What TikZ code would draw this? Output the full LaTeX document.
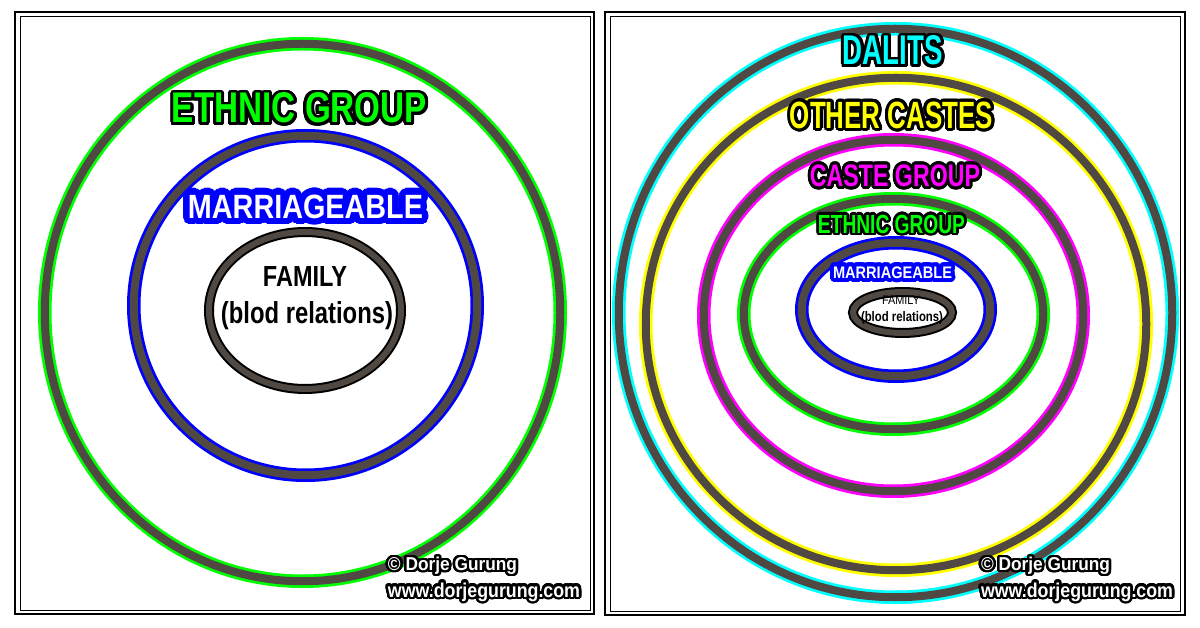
\documentclass[tikz,border=0pt]{standalone}
\usepackage{fontspec}
\setmainfont{Liberation Sans}
\usepackage{graphicx}
\definecolor{gr}{RGB}{0,255,0}
\definecolor{bl}{RGB}{0,0,255}
\definecolor{cy}{RGB}{0,255,255}
\definecolor{ye}{RGB}{255,255,0}
\definecolor{ma}{RGB}{255,0,255}
\definecolor{ringgray}{RGB}{80,72,66}
\newsavebox\oltboxa
\newsavebox\oltboxb
\newlength\oltw
% #1 outline width, #2 outline colour, #3 fill colour, #4 width, #5 height, #6 text
\newcommand\olt[6]{%
  \sbox\oltboxa{\resizebox{#4}{#5}{\color{#2}\bfseries #6}}%
  \sbox\oltboxb{\resizebox{#4}{#5}{\color{#3}\bfseries #6}}%
  \setlength\oltw{#1}%
  \rlap{\foreach \oltr in {0.5,1}{\foreach \oltang in {0,12,...,348}{%
      \pgfmathsetlengthmacro\oltdx{\oltr*\oltw*cos(\oltang)}%
      \pgfmathsetlengthmacro\oltdy{\oltr*\oltw*sin(\oltang)}%
      \rlap{\kern\oltdx\raisebox{\oltdy}{\usebox\oltboxa}}}}}%
  \usebox\oltboxb}
\newcommand\fit[3]{\resizebox{#1}{#2}{\bfseries #3}}
\newcommand\ringe[5]{%
  \draw[#1,line width=13.5pt] (#2,#3) ellipse [x radius=#4pt, y radius=#5pt];
  \draw[ringgray,line width=8pt] (#2,#3) ellipse [x radius=#4pt, y radius=#5pt];}
\newcommand\famring[4]{%
  \draw[black,line width=10pt] (#1,#2) ellipse [x radius=#3pt, y radius=#4pt];
  \draw[ringgray,line width=6pt] (#1,#2) ellipse [x radius=#3pt, y radius=#4pt];}
\tikzset{lbl/.style={inner sep=0pt, outer sep=0pt, anchor=base}}
\begin{document}
\begin{tikzpicture}[x=1pt,y=-1pt]
\useasboundingbox (0,0) rectangle (1200,628);
\fill[white] (0,0) rectangle (1200,628);
% frames
\draw[line width=2.5pt] (15,12) rectangle (594,614);
\draw[line width=1pt] (20,17) rectangle (590,610);
\draw[line width=2.5pt] (605,12) rectangle (1185,615);
\draw[line width=1pt] (610,17) rectangle (1180,611);
% left rings
\ringe{gr}{302.5}{312.5}{257.75}{268.75}
\ringe{bl}{305.5}{305.5}{171.75}{169.75}
\famring{305}{310.5}{96}{78.5}
% right rings
\ringe{cy}{895.5}{313}{276.75}{284.25}
\ringe{ye}{896}{324}{250.25}{246.25}
\ringe{ma}{893.5}{315.5}{189.75}{175.75}
\ringe{gr}{893.5}{314}{149.75}{115.25}
\ringe{bl}{896}{309.5}{94.25}{66.75}
\famring{902.5}{312.5}{49.5}{20.5}
% left texts
\node[lbl] (lethnic) at (299.5,123) {\olt{3pt}{black}{gr}{255pt}{30pt}{ETHNIC GROUP}};
\node[lbl] (lmarr) at (305.5,218.3) {\olt{6.5pt}{bl}{white}{235pt}{23.5pt}{MARRIAGEABLE}};
\node[lbl] (lfam) at (305,287) {\fit{84pt}{20pt}{FAMILY}};
\node[lbl] (lblod) at (307,324) {\fit{172pt}{22pt}{(blod relations)}};
\node[lbl] (lcopy) at (452.5,570.5) {\olt{2.5pt}{black}{white}{129pt}{13.5pt}{© Dorje Gurung}};
\node[lbl] (lweb) at (484,597) {\olt{2.5pt}{black}{white}{192pt}{14.5pt}{www.dorjegurung.com}};
% right texts
\node[lbl] (dalits) at (893,65) {\olt{3pt}{black}{cy}{100pt}{29pt}{DALITS}};
\node[lbl] (other) at (891.5,128.3) {\olt{3pt}{black}{ye}{203pt}{26.5pt}{OTHER CASTES}};
\node[lbl] (caste) at (895,186.7) {\olt{3pt}{black}{ma}{170pt}{21.7pt}{CASTE GROUP}};
\node[lbl] (rethnic) at (891.5,233.3) {\olt{2.5pt}{black}{gr}{147pt}{18.3pt}{ETHNIC GROUP}};
\node[lbl] (rmarr) at (892.5,278.3) {\olt{4pt}{bl}{white}{119pt}{11.7pt}{MARRIAGEABLE}};
\node[lbl] (rfam) at (901,305) {\resizebox{38pt}{8.5pt}{FAMILY}};
\node[lbl] (rblod) at (902,322) {\fit{82pt}{10pt}{(blod relations)}};
\node[lbl] (rcopy) at (1045.5,570.5) {\olt{2.5pt}{black}{white}{129pt}{13.5pt}{© Dorje Gurung}};
\node[lbl] (rweb) at (1077,597) {\olt{2.5pt}{black}{white}{192pt}{14.5pt}{www.dorjegurung.com}};
\end{tikzpicture}
\end{document}
